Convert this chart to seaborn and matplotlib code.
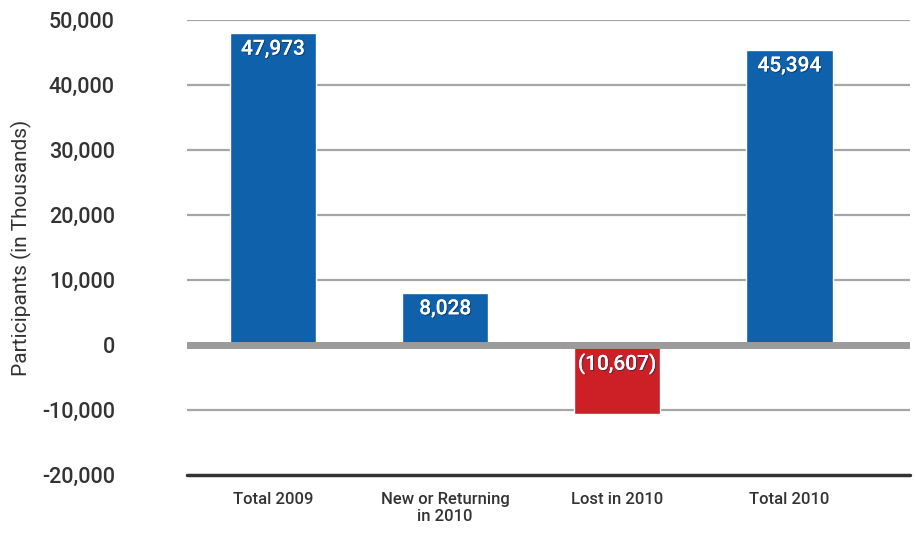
import numpy as np
import matplotlib
matplotlib.use("Agg")
import matplotlib.pyplot as plt
import matplotlib.patheffects as pe
import pandas as pd
import seaborn as sns

categories = ["Total 2009", "New or Returning\nin 2010", "Lost in 2010", "Total 2010"]
values = [47973, 8028, -10607, 45394]
bar_colors = ["#0E61AA", "#0E61AA", "#CC1F26", "#0E61AA"]
yticks = [-20000, -10000, 0, 10000, 20000, 30000, 40000, 50000]

sns.set_theme(style="white")
plt.rcParams['font.family'] = ['Roboto', 'DejaVu Sans']

df = pd.DataFrame({"cat": categories, "val": values})

fig = plt.figure(figsize=[9.16, 5.35], dpi=100)
ax = fig.add_axes([187/916, 1-475/535, (910-187)/916, (475-20)/535])

for y in yticks:
    if y == 0 or y == -20000:
        continue
    ax.axhline(y, color="#A6A6A6", lw=1.6, zorder=0)

sns.barplot(data=df, x="cat", y="val", hue="cat", palette=bar_colors, legend=False,
            width=0.5, saturation=1, ax=ax, zorder=2)

ax.axhline(0, color="#9B9B9B", lw=5, zorder=3)
ax.axhline(-20000, color="#333333", lw=2.5, zorder=3, clip_on=False)

shadow = [pe.withSimplePatchShadow(offset=(0.8, -0.8), shadow_rgbFace="#0A2F55", alpha=0.6), pe.Normal()]
for i, v in enumerate(values):
    txt = f"{v:,}" if v >= 0 else f"({-v:,})"
    top = v if v >= 0 else 0
    off = -16 if v >= 0 else -19
    ax.annotate(txt, (i, top), xytext=(0, off), textcoords="offset pixels",
                ha="center", va="center", color="white", fontsize=15, weight="medium",
                zorder=4, path_effects=shadow)

ax.set_ylim(-20000, 50000)
ax.set_xlim(-0.5, 3.7)
ax.set_yticks(yticks)
ax.set_yticklabels([f"{t:,}" for t in yticks], fontsize=15.5, color="#333333", weight="medium")
ax.tick_params(axis="y", length=0, pad=52)
ax.tick_params(axis="x", length=0, pad=12)
for lbl in ax.get_xticklabels():
    lbl.set_fontsize(12)
    lbl.set_color("#333333")
    lbl.set_weight("medium")
ax.set_xlabel("")
ax.set_ylabel("Participants (in Thousands)", fontsize=15, color="#333333")
ax.yaxis.set_label_coords(-(187-32)/(910-187), 0.5)
for s in ax.spines.values():
    s.set_visible(False)

fig.savefig("out.png", dpi=100)
